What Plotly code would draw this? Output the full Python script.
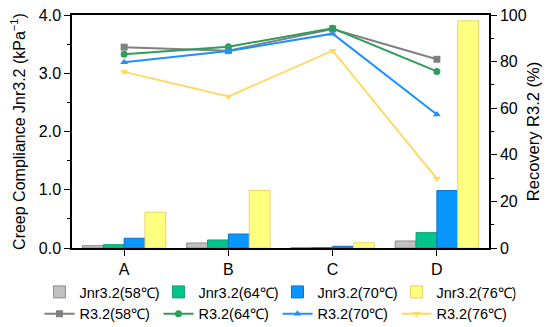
import plotly.graph_objects as go

categories = ["A", "B", "C", "D"]
jnr_58 = [0.04, 0.086, 0.005, 0.12]
jnr_64 = [0.057, 0.138, 0.008, 0.264]
jnr_70 = [0.167, 0.24, 0.03, 0.985]
jnr_76 = [0.615, 0.99, 0.09, 3.9]
r_58 = [86.2, 84.7, 94.0, 81.0]
r_64 = [83.2, 86.4, 94.3, 75.8]
r_70 = [79.7, 84.5, 92.0, 57.3]
r_76 = [75.6, 65.0, 84.7, 29.8]

bar_names = ["Jnr3.2(58℃)", "Jnr3.2(64℃)", "Jnr3.2(70℃)", "Jnr3.2(76℃)"]
line_names = ["R3.2(58℃)", "R3.2(64℃)", "R3.2(70℃)", "R3.2(76℃)"]
bar_fill = ["#c0c0c0", "#00c48c", "#0a96ff", "#ffff80"]
bar_edge = ["#8c8c8c", "#14a070", "#0a70d0", "#f2d060"]
line_col = ["#808080", "#2f9e5c", "#1e90ff", "#ffd966"]
symbols = ["square", "circle", "triangle-up", "triangle-down"]

fig = go.Figure()
for name, vals, fc, ec in zip(bar_names, [jnr_58, jnr_64, jnr_70, jnr_76], bar_fill, bar_edge):
    fig.add_trace(go.Bar(x=categories, y=vals, name=name, marker=dict(color=fc, line=dict(color=ec, width=1)),
                         yaxis="y"))
for name, vals, c, s in zip(line_names, [r_58, r_64, r_70, r_76], line_col, symbols):
    fig.add_trace(go.Scatter(x=categories, y=vals, name=name, mode="lines+markers", yaxis="y2",
                             line=dict(color=c, width=2), marker=dict(symbol=s, size=7, color=c)))

font = dict(family="Liberation Sans, Arial, sans-serif", size=16, color="#000")
fig.update_layout(
    width=550, height=327,
    margin=dict(l=64, r=69, t=7, b=87, autoexpand=False),
    paper_bgcolor="white", plot_bgcolor="white",
    font=font,
    barmode="group", bargap=0.2, bargroupgap=0,
    showlegend=True,
    legend=dict(orientation="h", x=-0.078, xanchor="left",
                y=-0.12, yanchor="top",
                entrywidth=74, entrywidthmode="pixels", font=dict(size=14.5),
                tracegroupgap=0, itemwidth=30, bgcolor="rgba(0,0,0,0)"),
    xaxis=dict(showline=True, linecolor="#000", linewidth=1.5, mirror=True,
               ticks="outside", ticklen=6, tickcolor="#000", showgrid=False,
               range=[-0.5, 3.5], tickfont=dict(size=16)),
    yaxis=dict(title=dict(text="Creep Compliance Jnr3.2 (kPa<sup>−1</sup>)", standoff=14, font=dict(size=16)),
               range=[0, 4], dtick=1, tickformat=".1f", showline=True, linecolor="#000",
               linewidth=1.5, ticks="outside", ticklen=6, tickcolor="#000", showgrid=False,
               zeroline=False, tickfont=dict(size=16), ticklabeloverflow="allow",
               minor=dict(dtick=0.5, ticks="outside", ticklen=3.5, tickcolor="#000", showgrid=False)),
    yaxis2=dict(title=dict(text="Recovery R3.2 (%)", standoff=2, font=dict(size=16.5)), overlaying="y", side="right",
                range=[0, 100], dtick=20, showline=True, linecolor="#000", linewidth=1.5,
                ticks="outside", ticklen=6, tickcolor="#000", showgrid=False, zeroline=False,
                tickfont=dict(size=16), ticklabeloverflow="allow",
                minor=dict(dtick=10, ticks="outside", ticklen=3.5, tickcolor="#000", showgrid=False)),
)

fig.write_html("out.html")
